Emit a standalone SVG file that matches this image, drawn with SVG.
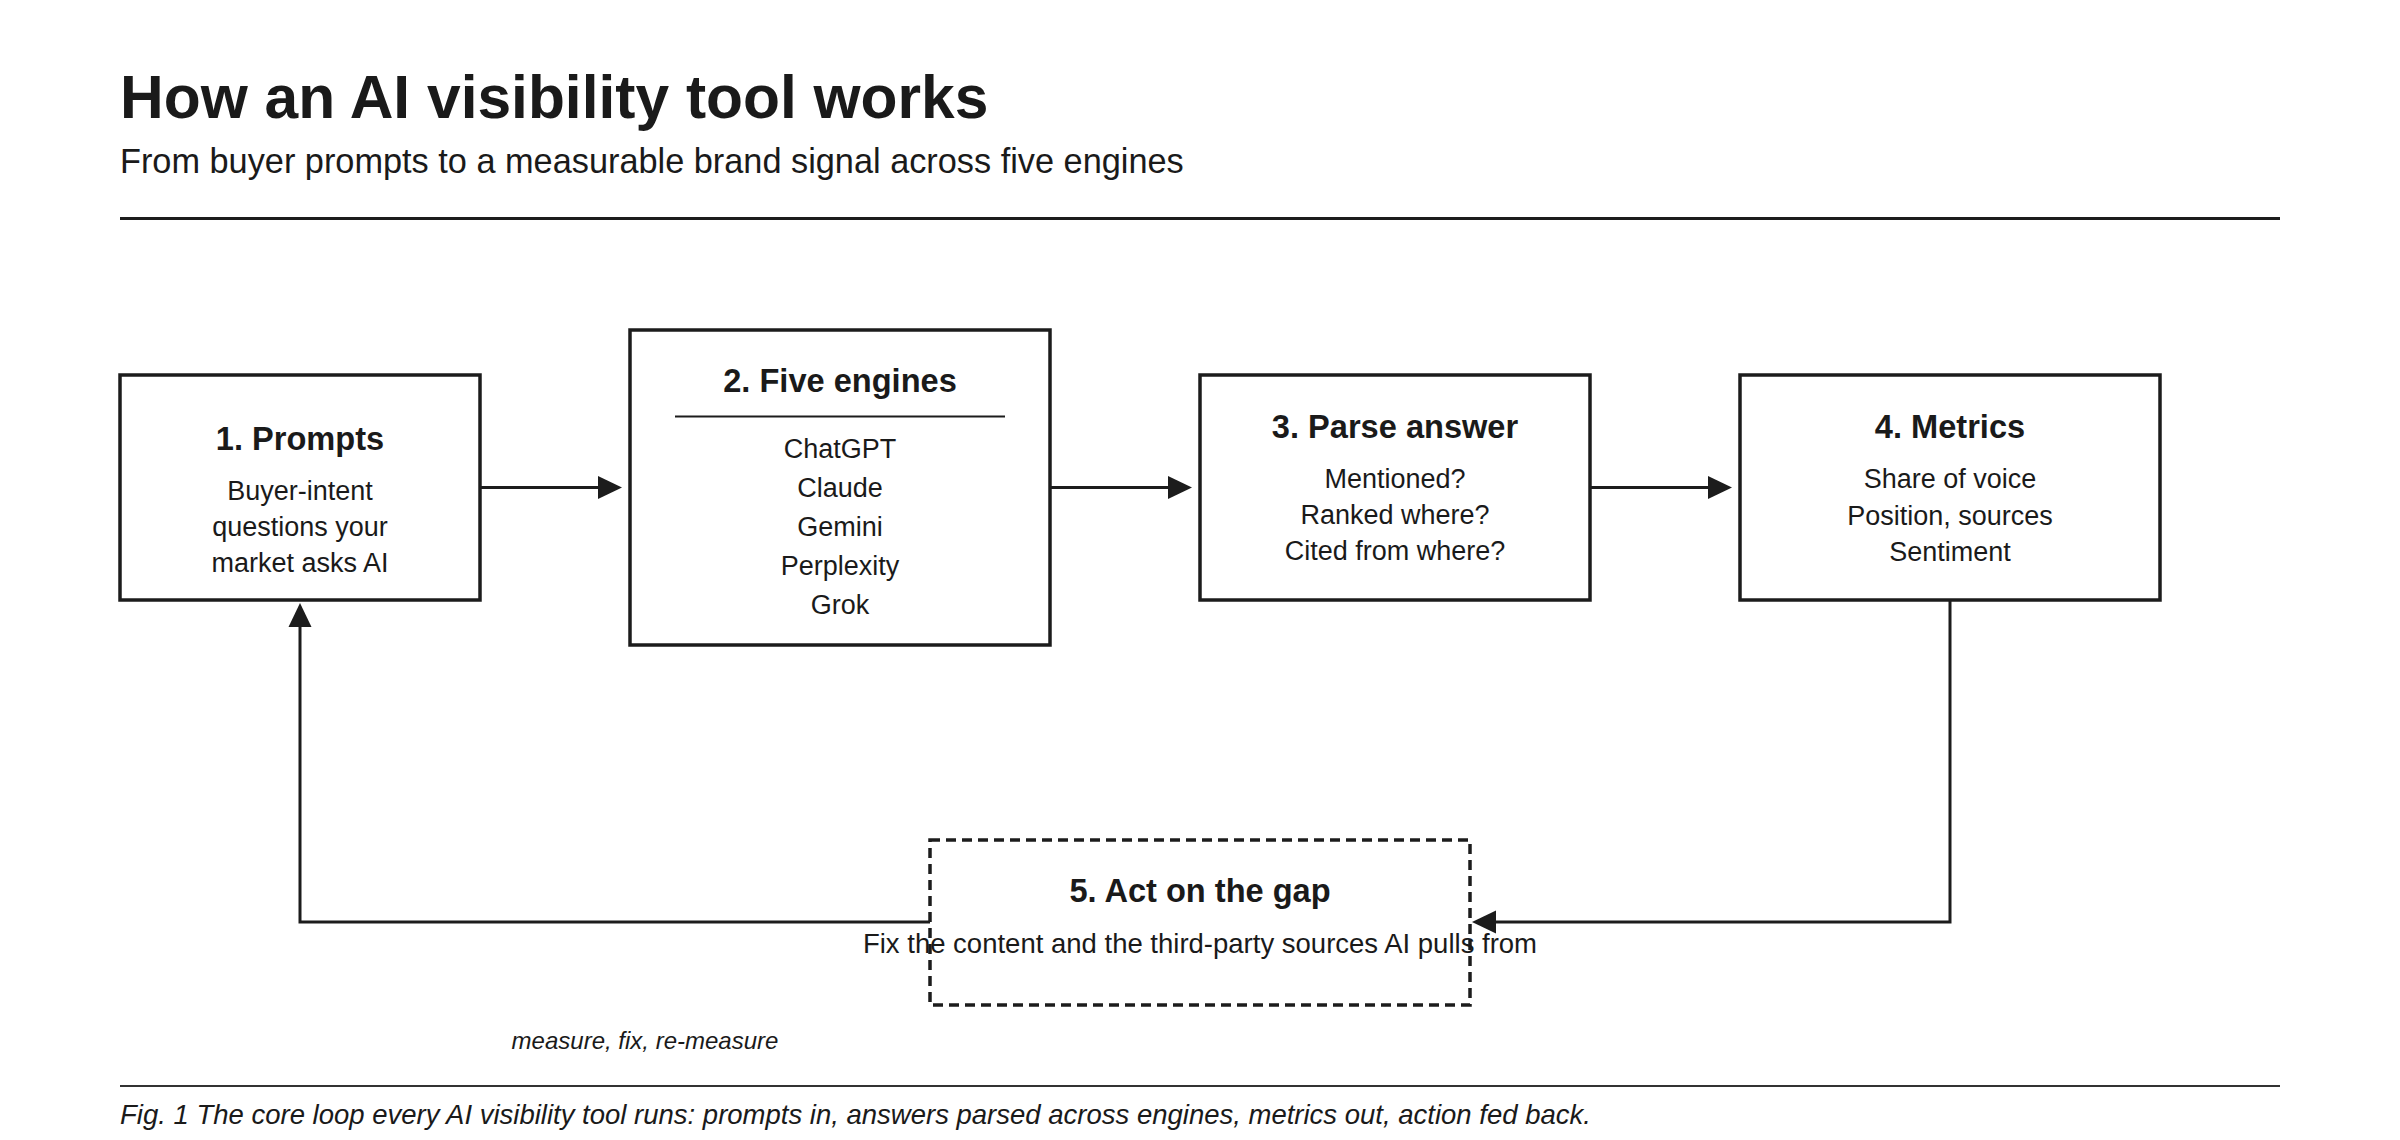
<svg xmlns="http://www.w3.org/2000/svg" width="2400" height="1140" viewBox="0 0 2400 1140">
  <style>
    text { font-family: "Liberation Sans", Arial, sans-serif; fill: #1a1a1a; }
    .title { font-size: 60.5px; font-weight: bold; }
    .subtitle { font-size: 34.3px; }
    .ntitle { font-size: 32.6px; font-weight: bold; text-anchor: middle; }
    .body { font-size: 27px; text-anchor: middle; }
    .note { font-size: 24px; font-style: italic; text-anchor: middle; }
    .caption { font-size: 27.5px; font-style: italic; }
    .box { fill: #ffffff; stroke: #1c1c1c; stroke-width: 3.5; }
    .dashed { fill: none; stroke: #1c1c1c; stroke-width: 3.5; stroke-dasharray: 10 6; }
    .conn { fill: none; stroke: #1c1c1c; stroke-width: 3; marker-end: url(#arrow); }
    .rule { stroke: #1c1c1c; }
  </style>
  <defs>
    <marker id="arrow" markerUnits="userSpaceOnUse" markerWidth="24" markerHeight="24" refX="0" refY="11.5" orient="auto" viewBox="0 0 24 23">
      <path d="M0,0 L24,11.5 L0,23 Z" fill="#1c1c1c"/>
    </marker>
  </defs>

  <rect width="2400" height="1140" fill="#ffffff"/>

  <g id="header">
    <text class="title" x="120" y="118">How an AI visibility tool works</text>
    <text class="subtitle" x="120" y="173">From buyer prompts to a measurable brand signal across five engines</text>
    <line class="rule" x1="120" y1="218.5" x2="2280" y2="218.5" stroke-width="3"/>
  </g>

  <g id="connectors">
    <path class="conn" d="M480,487.5 L598,487.5"/>
    <path class="conn" d="M1050,487.5 L1168,487.5"/>
    <path class="conn" d="M1590,487.5 L1708,487.5"/>
    <path class="conn" d="M1950,600 L1950,922 L1496,922"/>
    <path class="conn" d="M930,922 L300,922 L300,627"/>
  </g>

  <g id="node1">
    <rect class="box" x="120" y="375" width="360" height="225"/>
    <text class="ntitle" x="300" y="450">1. Prompts</text>
    <text class="body" x="300" y="500">Buyer-intent</text>
    <text class="body" x="300" y="536">questions your</text>
    <text class="body" x="300" y="572">market asks AI</text>
  </g>

  <g id="node2">
    <rect class="box" x="630" y="330" width="420" height="315"/>
    <text class="ntitle" x="840" y="392">2. Five engines</text>
    <line x1="675" y1="416.5" x2="1005" y2="416.5" stroke="#1c1c1c" stroke-width="2"/>
    <text class="body" x="840" y="458">ChatGPT</text>
    <text class="body" x="840" y="497">Claude</text>
    <text class="body" x="840" y="536">Gemini</text>
    <text class="body" x="840" y="575">Perplexity</text>
    <text class="body" x="840" y="614">Grok</text>
  </g>

  <g id="node3">
    <rect class="box" x="1200" y="375" width="390" height="225"/>
    <text class="ntitle" x="1395" y="438">3. Parse answer</text>
    <text class="body" x="1395" y="488">Mentioned?</text>
    <text class="body" x="1395" y="524">Ranked where?</text>
    <text class="body" x="1395" y="560">Cited from where?</text>
  </g>

  <g id="node4">
    <rect class="box" x="1740" y="375" width="420" height="225"/>
    <text class="ntitle" x="1950" y="438">4. Metrics</text>
    <text class="body" x="1950" y="488">Share of voice</text>
    <text class="body" x="1950" y="525">Position, sources</text>
    <text class="body" x="1950" y="561">Sentiment</text>
  </g>

  <g id="node5">
    <rect class="dashed" x="930" y="840" width="540" height="165"/>
    <text class="ntitle" x="1200" y="902">5. Act on the gap</text>
    <text class="body" x="1200" y="953" style="font-size:27.5px">Fix the content and the third-party sources AI pulls from</text>
  </g>

  <g id="footer">
    <text class="note" x="645" y="1049">measure, fix, re-measure</text>
    <line x1="120" y1="1086" x2="2280" y2="1086" stroke="#333333" stroke-width="2"/>
    <text class="caption" x="120" y="1124">Fig. 1 The core loop every AI visibility tool runs: prompts in, answers parsed across engines, metrics out, action fed back.</text>
  </g>
</svg>
